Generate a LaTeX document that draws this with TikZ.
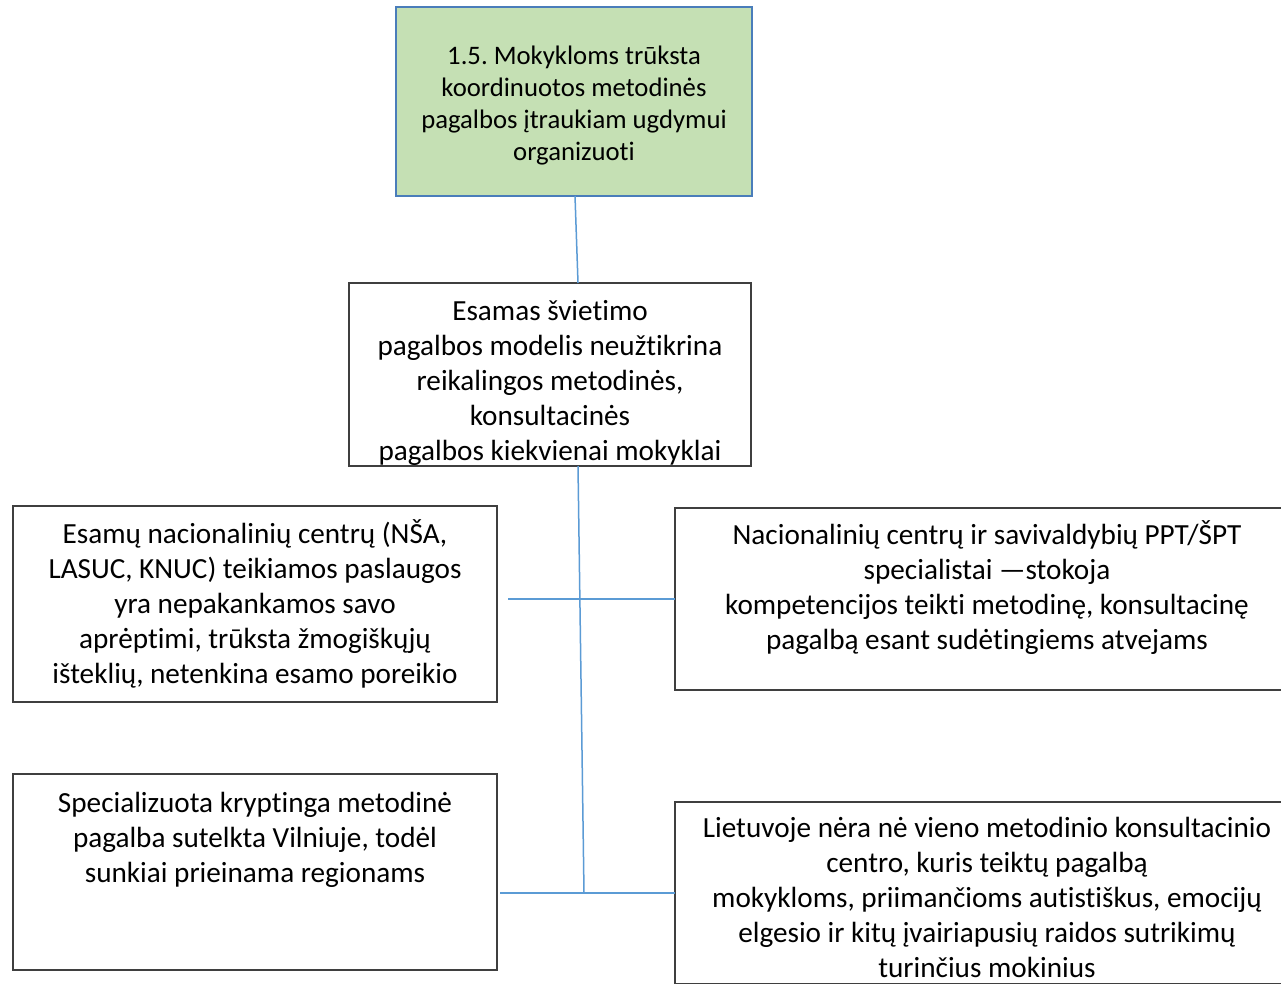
\documentclass[tikz,border=0pt]{standalone}
\usepackage{fontspec}
\setmainfont{Carlito}[Ligatures={NoCommon}]
\usetikzlibrary{calc}
\definecolor{topfill}{HTML}{C5E0B4}
\definecolor{topline}{HTML}{4A7DBA}
\definecolor{conn}{HTML}{5B9BD5}
\definecolor{boxline}{HTML}{3F3F3F}
\frenchspacing
\begin{document}
\begin{tikzpicture}[x=1pt,y=-1pt,
  box/.style={draw=boxline,line width=1.2pt,fill=white,inner sep=0pt,outer sep=0pt},
  topbox/.style={draw=topline,line width=2.5pt,fill=topfill,inner sep=0pt,outer sep=0pt},
  txt/.style={anchor=north,align=center,inner sep=0pt,font=\fontsize{29.2}{35}\selectfont},
  toptxt/.style={anchor=north,align=center,inner sep=0pt,font=\fontsize{26.7}{32}\selectfont},
  link/.style={draw=conn,line width=1.5pt}]
\useasboundingbox (0,0) rectangle (1281,983);
\clip (0,0) rectangle (1281,983);
\fill[white] (0,0) rectangle (1281,983);

% boxes
\node[topbox,minimum width=356pt,minimum height=189pt] (top) at (574,101.5) {};
\node[box,minimum width=402pt,minimum height=183pt] (mid) at (550,374.5) {};
\node[box,minimum width=484pt,minimum height=196pt] (l1) at (255,604) {};
\node[box,minimum width=624pt,minimum height=182pt] (r1) at (987,599) {};
\node[box,minimum width=484pt,minimum height=196pt] (l2) at (255,872) {};
\node[box,minimum width=624pt,minimum height=182pt] (r2) at (987,893) {};

% connector points
\coordinate (j2) at (584,893);
\coordinate (e1) at (508,599);
\coordinate (e2) at (500,893);

% connectors
\draw[link] ([xshift=1pt]top.south) -- ([xshift=28pt]mid.north);
\draw[link] ([xshift=28pt]mid.south) -- (j2);
\draw[link] (e1) -- (r1.west);
\draw[link] (e2) -- (r2.west);

% texts
\node[toptxt] (t0) at (574,41.6) {\strut 1.5. Mokykloms trūksta\\koordinuotos metodinės\\pagalbos įtraukiam ugdymui\\organizuoti};
\node[txt] (t1) at (550,295.5) {\strut Esamas švietimo\\pagalbos modelis neužtikrina\\reikalingos metodinės,\\konsultacinės\\pagalbos kiekvienai mokyklai};
\node[txt] (t2) at (255,518.5) {\strut Esamų nacionalinių centrų (NŠA,\\LASUC, KNUC) teikiamos paslaugos\\yra nepakankamos savo\\aprėptimi, trūksta žmogiškųjų\\išteklių, netenkina esamo poreikio};
\node[txt] (t3) at (987,519.5) {\strut Nacionalinių centrų ir savivaldybių PPT/ŠPT\\specialistai —stokoja\\kompetencijos teikti metodinę, konsultacinę\\pagalbą esant sudėtingiems atvejams};
\node[txt] (t4) at (255,787.5) {\strut Specializuota kryptinga metodinė\\pagalba sutelkta Vilniuje, todėl\\sunkiai prieinama regionams};
\node[txt] (t5) at (987,812.5) {\strut Lietuvoje nėra nė vieno metodinio konsultacinio\\centro, kuris teiktų pagalbą\\mokykloms, priimančioms autistiškus, emocijų\\elgesio ir kitų įvairiapusių raidos sutrikimų\\turinčius mokinius};
\end{tikzpicture}
\end{document}
